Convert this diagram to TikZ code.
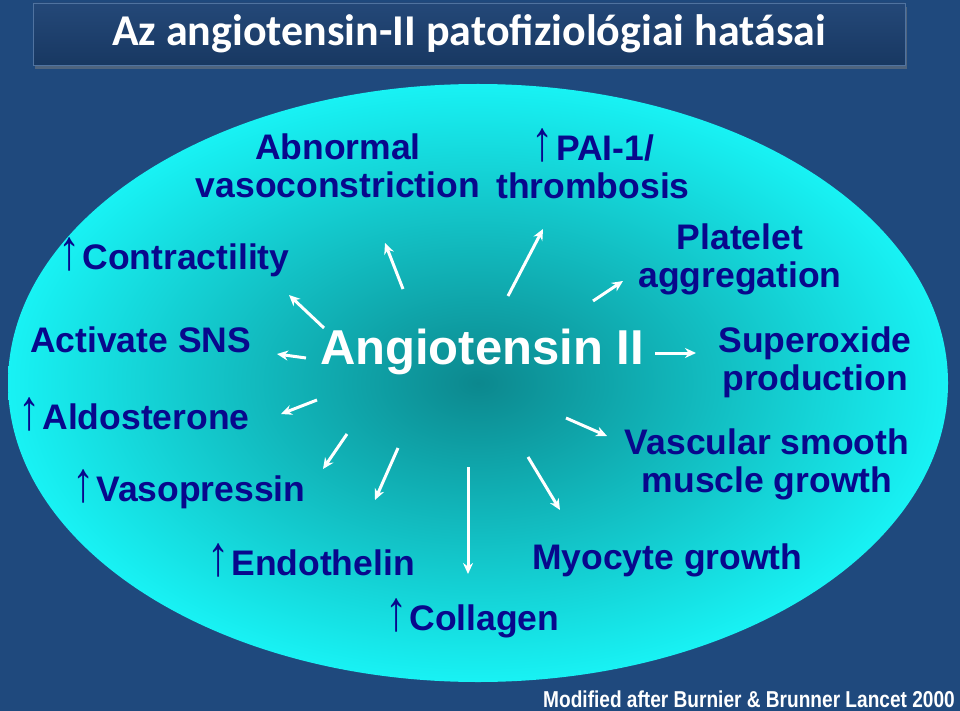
\documentclass[tikz,border=0pt]{standalone}
\usepackage{fontspec}
\setmainfont{Liberation Sans}
\newfontfamily\titlefont{Carlito}
\usepackage{graphicx}
\usetikzlibrary{positioning,arrows.meta,shadows}

\definecolor{slidebg}{RGB}{31,73,125}
\definecolor{titletop}{RGB}{36,72,120}
\definecolor{titlebot}{RGB}{24,56,98}
\definecolor{titleedge}{RGB}{80,115,160}
\definecolor{effcyan}{RGB}{24,242,244}
\definecolor{effteal}{RGB}{12,136,142}
\definecolor{effnavy}{RGB}{8,8,140}

\newcommand{\upar}{\scalebox{1.25}[1.6]{\mdseries ↑}\hspace{2pt}}

\tikzset{
  titlebox/.style={minimum width=872pt, minimum height=62pt, top color=titletop, bottom color=titlebot,
    draw=titleedge, line width=0.8pt, drop shadow={shadow xshift=2pt, shadow yshift=-4pt, opacity=0.5},
    text=white, font=\titlefont\bfseries\fontsize{44}{44}\selectfont},
  effect/.style={font=\bfseries\fontsize{35.5}{38}\selectfont, text=effnavy, align=center, inner sep=0pt},
  spoke/.style={->, white, line width=3pt},
}

\begin{document}
\begin{tikzpicture}[x=1pt,y=-1pt,>={Stealth[length=11pt,width=10pt]}]
\useasboundingbox (0,0) rectangle (960,711);
\fill[slidebg] (0,0) rectangle (960,711);
\shade[inner color=effteal, outer color=effcyan] (478,383) ellipse [x radius=470, y radius=299];

\node[titlebox] (title) at (469,34) {Az angiotensin-II patofiziológiai hatásai};

% centre
\node[font=\bfseries\fontsize{49}{50}\selectfont, text=white] (ang) at (482,352) {Angiotensin II};

% effects round the ellipse
\node[effect] (vaso) at (338,166) {Abnormal\\vasoconstriction};
\node[effect] (pai) at (593,164) {\upar PAI-1/\\thrombosis};
\node[effect, anchor=west] (contr) at (58,257) {\upar Contractility};
\node[effect] (plat) at (740,259) {Platelet\\aggregation};
\node[effect, anchor=west] (sns) at (30,340) {Activate SNS};
\node[effect] (superox) at (815,362) {Superoxide\\production};
\node[effect, anchor=west] (aldo) at (18,414) {\upar Aldosterone};
\node[effect] (vsmc) at (767,464) {Vascular smooth\\muscle growth};
\node[effect, anchor=west] (vasop) at (72,489) {\upar Vasopressin};
\node[effect, anchor=west] (endo) at (207,560) {\upar Endothelin};
\node[effect, anchor=west] (myo) at (532,560) {Myocyte growth};
\node[effect, anchor=west] (coll) at (385,618) {\upar Collagen};

\node[anchor=east, inner sep=0pt, text=white, font=\bfseries\fontsize{23}{23}\selectfont] (ref) at (955,699)
  {\scalebox{0.83}[1]{Modified after Burnier \& Brunner Lancet 2000}};

% spoke ends
\coordinate (contr-s) at (324,328); \coordinate (contr-e) at (289,295);
\coordinate (vaso-s) at (403,289);  \coordinate (vaso-e) at (385,243);
\coordinate (pai-s) at (508,296);   \coordinate (pai-e) at (543,229);
\coordinate (plat-s) at (593,301);  \coordinate (plat-e) at (623,281);
\coordinate (sup-s) at (655,353);   \coordinate (sup-e) at (696,353);
\coordinate (vsmc-s) at (566,418);  \coordinate (vsmc-e) at (607,436);
\coordinate (myo-s) at (528,457);   \coordinate (myo-e) at (560,510);
\coordinate (coll-s) at (468,467);  \coordinate (coll-e) at (468,574);
\coordinate (endo-s) at (398,448);  \coordinate (endo-e) at (375,500);
\coordinate (vasop-s) at (347,434); \coordinate (vasop-e) at (323,469);
\coordinate (aldo-s) at (317,400);  \coordinate (aldo-e) at (281,414);
\coordinate (sns-s) at (306,358);   \coordinate (sns-e) at (277,354);

\foreach \k in {contr,vaso,pai,plat,sup,vsmc,myo,coll,endo,vasop,aldo,sns}
  \draw[spoke] (\k-s) -- (\k-e);
\end{tikzpicture}
\end{document}
